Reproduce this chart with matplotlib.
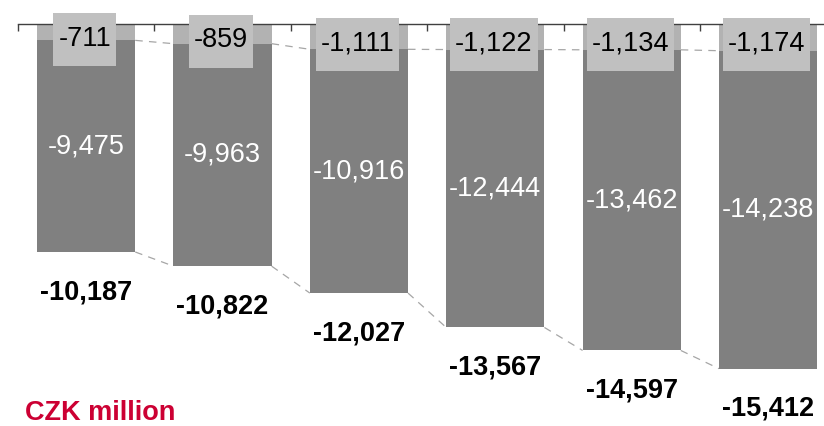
from matplotlib import pyplot as plt
from matplotlib.transforms import IdentityTransform
import numpy

plt.rcParams['font.family'] = ['Liberation Sans', 'DejaVu Sans']

# values in CZK million (all negative)
small_part = [-711, -859, -1111, -1122, -1134, -1174]
big_part = [-9475, -9963, -10916, -12444, -13462, -14238]
totals = [-10187, -10822, -12027, -13567, -14597, -15412]

x = numpy.arange(len(totals))
w = 0.72

fig = plt.figure(figsize=(8.24, 4.26), dpi=100)
ax = fig.add_axes([0.0218, 0.0, 0.9782, 0.9425])

ax.bar(x, small_part, w, color='#b2b2b2', zorder=2)
ax.bar(x, big_part, w, bottom=small_part, color='#808080', zorder=2)

# dashed connectors between the bars
for i in range(len(x) - 1):
    ax.plot([x[i] + w / 2, x[i + 1] - w / 2], [small_part[i], small_part[i + 1]],
            color='#a6a6a6', linestyle=(0, (6, 5)), linewidth=0.9, zorder=1)
    ax.plot([x[i] + w / 2, x[i + 1] - w / 2], [totals[i], totals[i + 1]],
            color='#a6a6a6', linestyle=(0, (6, 5)), linewidth=0.9, zorder=1)

small_labels = []
for i in range(len(x)):
    t = ax.annotate(f"{small_part[i]:,}", (x[i] - 0.01, small_part[i] / 2), xytext=(0, -4.5),
                    textcoords='offset points', ha='center', va='center', fontsize=19.5,
                    color='black', zorder=5)
    small_labels.append(t)
    ax.annotate(f"{big_part[i]:,}", (x[i], small_part[i] + big_part[i] / 2), xytext=(0, 0),
                textcoords='offset points', ha='center', va='center', fontsize=19.5,
                color='white', zorder=4)
    ax.annotate(f"{totals[i]:,}", (x[i], totals[i]), xytext=(0, -29),
                textcoords='offset points', ha='center', va='center', fontsize=19.5,
                color='black', fontweight='bold', zorder=4)

ax.set_xlim(-0.5, 5.41)
ax.set_ylim(-17980, 0)

# axis line on top with ticks at the category boundaries
for s in ['bottom', 'left', 'right']:
    ax.spines[s].set_visible(False)
ax.spines['top'].set_color('#404040')
ax.spines['top'].set_linewidth(1.0)
ax.xaxis.tick_top()
ax.set_xticks(numpy.arange(-0.5, 5.5, 1.0))
ax.set_xticklabels([])
ax.tick_params(axis='x', direction='in', length=5, width=1.0, color='#404040')
ax.set_yticks([])

# grey boxes behind the small labels: a bit wider than the text, 53 px tall
fig.canvas.draw()
for t in small_labels:
    bb = t.get_window_extent()
    cy = (bb.y0 + bb.y1) / 2 - 1
    box = plt.Rectangle((bb.x0 - 5, cy - 26.5), bb.width + 10, 53,
                        transform=IdentityTransform(), facecolor='#c0c0c0',
                        edgecolor='none', zorder=4.5, clip_on=False)
    ax.add_artist(box)

fig.text(25 / 824, 1 - 413 / 426, "CZK million", color='#cc0033', fontsize=19.5,
         fontweight='bold', ha='left', va='center')

plt.savefig('out.png', dpi=100)
